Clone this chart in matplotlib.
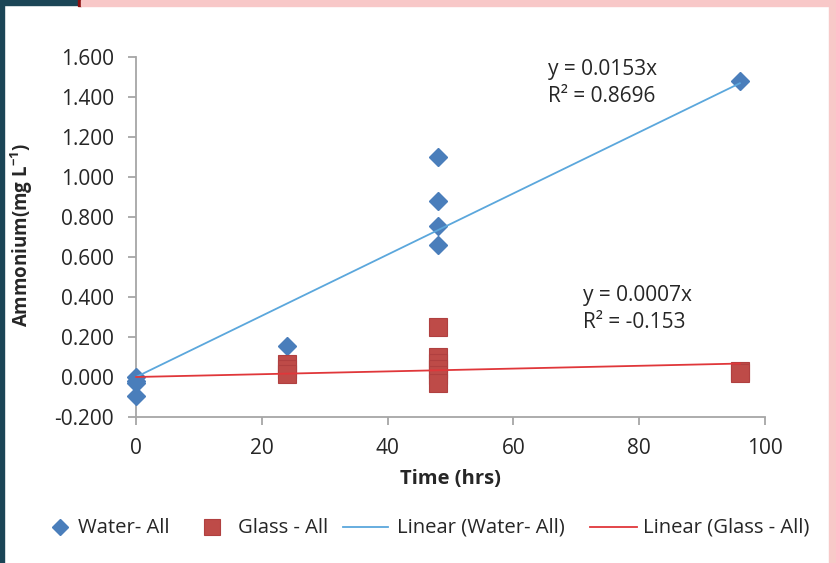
import matplotlib
matplotlib.use("Agg")
import matplotlib.pyplot as plt
import numpy as np
from matplotlib.patches import Rectangle
from matplotlib.lines import Line2D

plt.rcParams['font.family'] = ['Open Sans', 'DejaVu Sans']
plt.rcParams['mathtext.fontset'] = 'custom'
plt.rcParams['mathtext.rm'] = 'Open Sans'
plt.rcParams['mathtext.bf'] = 'Open Sans:bold'

water_x = [0, 0, 0, 0, 24, 48, 48, 48, 48, 96]
water_y = [0.000, -0.020, -0.030, -0.095, 0.155, 1.100, 0.880, 0.755, 0.660, 1.480]
glass_x = [24, 24, 24, 48, 48, 48, 48, 48, 48, 96, 96]
glass_y = [0.065, 0.040, 0.015, 0.250, 0.100, 0.070, 0.040, 0.010, -0.030, 0.030, 0.020]
water_slope = 0.0153
glass_slope = 0.0007
water_r2 = 0.8696
glass_r2 = -0.153
x_ticks = [0, 20, 40, 60, 80, 100]
y_ticks = [-0.2, 0.0, 0.2, 0.4, 0.6, 0.8, 1.0, 1.2, 1.4, 1.6]
legend_labels = ['Water- All', 'Glass - All', 'Linear (Water- All)', 'Linear (Glass - All)']

W, H = 837, 563
fig = plt.figure(figsize=(W/100, H/100), dpi=100)
ax = fig.add_axes([136/W, 1-417/H, (765-136)/W, (417-57)/H])

blue = '#4A7EBB'
red = '#BE4B48'
bline = '#5BA7DC'
rline = '#E0373A'
txt = '#262626'
ax.plot(water_x, water_y, linestyle='none', marker='D', ms=9.5, color=blue,
        mec=blue, zorder=3)
ax.plot(glass_x, glass_y, linestyle='none', marker='s', ms=13, color=red,
        mec='#B04040', mew=0.8, zorder=3)
fx = np.array([0, max(water_x)])
ax.plot(fx, water_slope*fx, color=bline, lw=1.3, zorder=4)
ax.plot(fx, glass_slope*fx, color=rline, lw=1.3, zorder=4)

ax.set_xlim(0, 100)
ax.set_ylim(-0.2, 1.6)
ax.set_xticks(x_ticks)
ax.set_yticks(y_ticks)
ax.set_yticklabels([f'{v:.3f}' for v in y_ticks])
for s in ['top', 'right']:
    ax.spines[s].set_visible(False)
for s in ['left', 'bottom']:
    ax.spines[s].set_color('#A6A6A6')
    ax.spines[s].set_linewidth(1.3)
ax.tick_params(axis='both', colors='#A6A6A6', length=6, width=1.3, labelsize=15,
               labelcolor=txt)
ax.tick_params(axis='y', pad=10)
ax.tick_params(axis='x', pad=9)
for l in ax.lines:
    l.set_clip_on(False)

ax.set_xlabel('Time (hrs)', fontsize=14.5, fontweight='bold', color=txt, labelpad=7)
fig.text(22/W, 1-235/H, 'Ammonium(mg L$^{\\mathbf{-1}}$)', fontsize=13.5, fontweight='bold',
         color=txt, rotation=90, ha='center', va='center')

fig.text(548/W, 1-70/H, f'y = {water_slope}x', fontsize=15, color=txt, ha='left', va='center')
fig.text(548/W, 1-97/H, f'R² = {water_r2}', fontsize=15, color=txt, ha='left', va='center')
fig.text(583/W, 1-296/H, f'y = {glass_slope}x', fontsize=15, color=txt, ha='left', va='center')
fig.text(583/W, 1-322/H, f'R² = {glass_r2}', fontsize=15, color=txt, ha='left', va='center')

# legend (manual placement)
ly = 1-527/H
tr = fig.transFigure
fig.add_artist(Line2D([60/W], [ly], transform=tr, marker='D', ms=8, color=blue, mec=blue, ls='none'))
fig.add_artist(Line2D([212/W], [ly], transform=tr, marker='s', ms=11, color=red, mec='#B04040', mew=0.8, ls='none'))
fig.add_artist(Line2D([343/W, 388/W], [ly, ly], transform=tr, color=bline, lw=1.3))
fig.add_artist(Line2D([590/W, 637/W], [ly, ly], transform=tr, color=rline, lw=1.3))
for xpos, lab in zip([78, 238, 397, 643], legend_labels):
    fig.text(xpos/W, 1-533/H, lab, fontsize=14.6, color=txt, ha='left', va='baseline')

# borders
fig.patches.append(Rectangle((0, 0), 4/W, 1, transform=tr, color='#1B4556', zorder=10))
fig.patches.append(Rectangle((0, 1-5/H), 78/W, 5/H, transform=tr, color='#1B4556', zorder=10))
fig.patches.append(Rectangle((78/W, 1-6/H), 3/W, 6/H, transform=tr, color='#8B1010', zorder=10))
fig.patches.append(Rectangle((81/W, 1-6/H), 1, 6/H, transform=tr, color='#F8C8C8', zorder=10))
fig.patches.append(Rectangle((829/W, 0), 8/W, 1, transform=tr, color='#F8C8C8', zorder=10))

fig.savefig('out.png', dpi=100)
